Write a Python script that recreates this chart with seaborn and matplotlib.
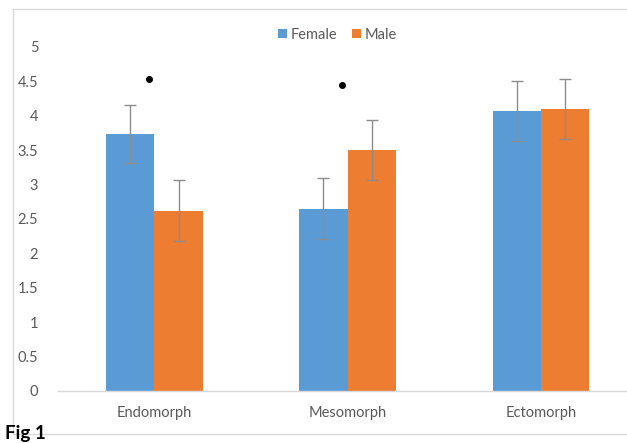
import matplotlib
matplotlib.use("Agg")
import matplotlib.pyplot as plt
from matplotlib.patches import Rectangle
import seaborn as sns
import pandas as pd

# Somatotype component scores by sex (mean ± SD)
somatotypes = ["Endomorph", "Mesomorph", "Ectomorph"]
sexes = ["Female", "Male"]
female_mean = [3.73, 2.65, 4.07]
male_mean = [2.62, 3.50, 4.10]
female_sd = [0.42, 0.44, 0.43]
male_sd = [0.44, 0.44, 0.43]
# significant sex differences, drawn as dots above the groups
sig_marks = [4.54, 4.45, None]
y_ticks = [0, 0.5, 1, 1.5, 2, 2.5, 3, 3.5, 4, 4.5, 5]

colors = {"Female": "#5B9BD5", "Male": "#ED7D31"}

df = pd.DataFrame({
    "Somatotype": somatotypes * 2,
    "Sex": ["Female"] * 3 + ["Male"] * 3,
    "Score": female_mean + male_mean,
})
sds = {"Female": female_sd, "Male": male_sd}

sns.set_style("white")
plt.rcParams["font.family"] = ["Lato", "DejaVu Sans"]

W, H = 627, 443
fig = plt.figure(figsize=(W / 100, H / 100), dpi=100)
ax = fig.add_axes([57.75 / W, 1 - 391 / H, (637.5 - 57.75) / W, (391 - 47) / H])

sns.barplot(data=df, x="Somatotype", y="Score", hue="Sex", order=somatotypes,
            hue_order=sexes, palette=colors, width=0.5, gap=0, errorbar=None,
            saturation=1, linewidth=0, ax=ax, legend=True)

# error bars on each bar
for cont, sex in zip(ax.containers, sexes):
    xs = [b.get_x() + b.get_width() / 2 for b in cont]
    ys = [b.get_height() for b in cont]
    ax.errorbar(xs, ys, yerr=sds[sex], fmt="none", ecolor="#8c8c8c",
                elinewidth=1, capsize=4, capthick=1, zorder=3)

for i, v in enumerate(sig_marks):
    if v is not None:
        ax.plot([i - 0.03], [v], marker="o", color="black", ms=4, zorder=4)

ax.set_xlim(-0.5, 2.5)
ax.set_ylim(0, 5)
ax.set_yticks(y_ticks)
ax.set_yticklabels([f"{t:g}" for t in y_ticks])
ax.set_xlabel("")
ax.set_ylabel("")
for s in ["top", "right", "left"]:
    ax.spines[s].set_visible(False)
ax.spines["bottom"].set_color("#d9d9d9")
ax.spines["bottom"].set_linewidth(1)
ax.tick_params(axis="both", length=0, colors="#595959", labelsize=10.5)
ax.tick_params(axis="y", pad=14)
ax.tick_params(axis="x", pad=11)
ax.grid(False)

handles, labels = ax.get_legend_handles_labels()
ax.legend_.remove()
fig.legend(handles, labels, loc="center", bbox_to_anchor=(337.5 / W, 1 - 34.7 / H),
           ncol=2, frameon=False, handlelength=0.6, handleheight=0.6,
           handletextpad=0.25, columnspacing=1.0, fontsize=10.5,
           labelcolor="#595959")

# chart area border
fig.patches.append(Rectangle((12.7 / W, 1 - 434 / H), 1.2, (434 - 9) / H,
                             transform=fig.transFigure, fill=False,
                             edgecolor="#d9d9d9", lw=1, zorder=0))

fig.text(5 / W, 1 - 439 / H, "Fig 1", fontsize=13.5, fontweight="bold",
         color="black", ha="left", va="baseline")

fig.savefig("out.png", dpi=100)
